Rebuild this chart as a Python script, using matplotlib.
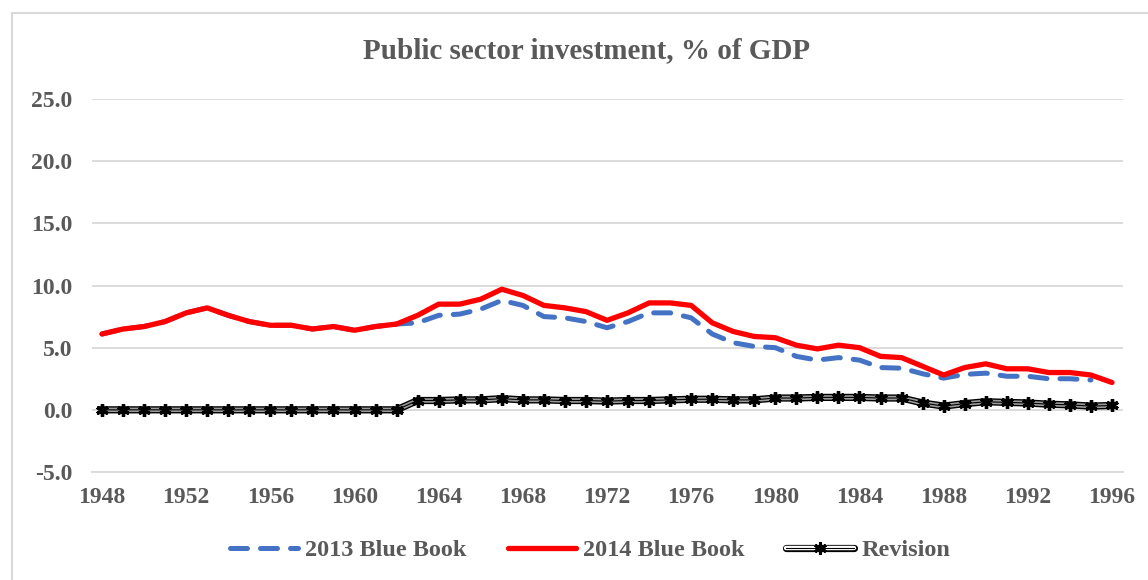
import numpy as np
import matplotlib
matplotlib.use("Agg")
import matplotlib.pyplot as plt
from matplotlib.lines import Line2D
from matplotlib.patches import Rectangle
from matplotlib.legend_handler import HandlerTuple

# years on the category axis
years = list(range(1948, 1997))
tick_years = list(range(1948, 1997, 4))

# public sector investment, % of GDP (2014 Blue Book, 1948-1996)
blue_book_2014 = [6.1, 6.5, 6.7, 7.1, 7.8, 8.2, 7.6, 7.1, 6.8, 6.8,
                  6.5, 6.7, 6.4, 6.7, 6.9, 7.6, 8.5, 8.5, 8.9, 9.7,
                  9.2, 8.4, 8.2, 7.9, 7.2, 7.8, 8.6, 8.6, 8.4, 7.0,
                  6.3, 5.9, 5.8, 5.2, 4.9, 5.2, 5.0, 4.3, 4.2, 3.5,
                  2.8, 3.4, 3.7, 3.3, 3.3, 3.0, 3.0, 2.8, 2.2]

# 2013 Blue Book (1948-1995)
blue_book_2013 = [6.1, 6.5, 6.7, 7.1, 7.8, 8.2, 7.6, 7.1, 6.8, 6.8,
                  6.5, 6.7, 6.4, 6.7, 6.9, 7.0, 7.6, 7.7, 8.1, 8.8,
                  8.4, 7.5, 7.4, 7.1, 6.6, 7.1, 7.8, 7.8, 7.4, 6.1,
                  5.4, 5.1, 5.0, 4.3, 4.0, 4.2, 4.0, 3.4, 3.35, 2.9,
                  2.55, 2.85, 2.95, 2.7, 2.7, 2.5, 2.5, 2.4]

# revision between the two (1948-1996)
revision = [0.0, 0.0, 0.0, 0.0, 0.0, 0.0, 0.0, 0.0, 0.0, 0.0,
            0.0, 0.0, 0.0, 0.0, 0.0, 0.75, 0.75, 0.8, 0.8, 0.9,
            0.8, 0.8, 0.75, 0.75, 0.7, 0.75, 0.75, 0.8, 0.85, 0.85,
            0.8, 0.8, 0.95, 0.95, 1.0, 1.0, 1.0, 0.95, 0.95, 0.55,
            0.3, 0.5, 0.65, 0.6, 0.55, 0.45, 0.4, 0.3, 0.35]

plt.rcParams["font.family"] = ["Liberation Serif", "DejaVu Serif"]
plt.rcParams["font.weight"] = "bold"
txt = "#595959"
grid = "#D9D9D9"

fig = plt.figure(figsize=(11.48, 5.8), dpi=100)
ax = fig.add_axes([91.5 / 1148, 108 / 580, 1031 / 1148, 373 / 580])

# chart border
fig.patches.append(Rectangle((12 / 1148, -0.05), 1.2, 1 - 13 / 580 + 0.05,
                             transform=fig.transFigure, fill=False,
                             edgecolor=grid, linewidth=1.5))

blue_line, = ax.plot(years[:len(blue_book_2013)], blue_book_2013, color="#4472C4",
                     lw=3.6, dashes=(3.4, 2.6), dash_capstyle="round", zorder=3)
red_line, = ax.plot(years, blue_book_2014, color="#FF0000", lw=3.8,
                    solid_capstyle="round", solid_joinstyle="round", zorder=4)

# revision: double black line with star markers
ax.plot(years, revision, color="black", lw=5.2, zorder=5)
ax.plot(years, revision, color="#9a9a9a", lw=3.2, zorder=6)
ax.plot(years, revision, color="black", lw=0.8, zorder=7,
        marker=(6, 2, 0), markersize=9, markeredgewidth=2.4,
        markeredgecolor="black")

ax.set_xlim(1947.5, 1996.5)
ax.set_ylim(-5, 25)
ax.set_yticks(np.arange(-5, 26, 5))
ax.set_yticklabels([f"{v:.1f}" for v in np.arange(-5, 26, 5)])
ax.set_xticks(tick_years)
ax.set_xticklabels([str(y) for y in tick_years])
ax.tick_params(length=0, labelsize=17, colors=txt, pad=11)
ax.tick_params(axis="y", pad=14)
ax.grid(axis="y", color=grid, lw=1.3)
ax.set_axisbelow(True)
for s in ["top", "right", "left"]:
    ax.spines[s].set_visible(False)
ax.spines["bottom"].set_color(grid)
ax.spines["bottom"].set_linewidth(1.3)

fig.text(587 / 1148, 1 - 51 / 580, "Public sector investment, % of GDP",
         ha="center", va="center", fontsize=21, color=txt, fontweight="bold")

rev_outer = Line2D([], [], color="black", lw=5.2, solid_capstyle="round")
rev_inner = Line2D([], [], color="white", lw=3.2, solid_capstyle="round")
rev_mark = Line2D([], [], color="black", lw=0.8, marker=(6, 2, 0),
                  markersize=9, markeredgewidth=2.2, markevery=[1])
leg = fig.legend([blue_line, red_line, (rev_outer, rev_inner, rev_mark)],
                 ["2013 Blue Book", "2014 Blue Book", "Revision"],
                 handler_map={tuple: HandlerTuple(ndivide=1, pad=0)},
                 loc="center", bbox_to_anchor=(590 / 1148, 1 - 550 / 580),
                 ncol=3, frameon=False, fontsize=17.5, handlelength=2.8,
                 handletextpad=0.3, columnspacing=1.7)
for t in leg.get_texts():
    t.set_color(txt)

fig.savefig("out.png", dpi=100)
